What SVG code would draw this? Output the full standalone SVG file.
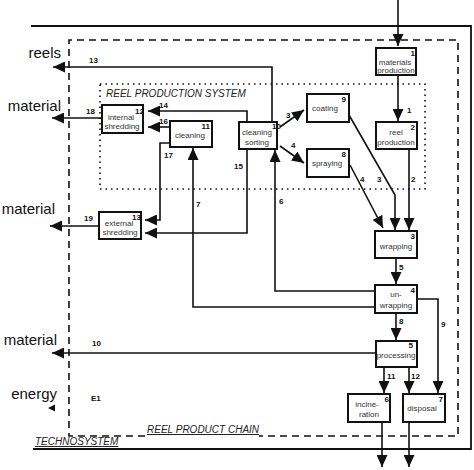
<svg xmlns="http://www.w3.org/2000/svg" width="474" height="470" viewBox="0 0 474 470">
<style>
.box{fill:#fff;stroke:#111;stroke-width:2}
.ln{fill:none;stroke:#111;stroke-width:1.6}
.t{font-family:"Liberation Sans",Arial,sans-serif;font-size:8px;fill:#333;text-anchor:middle}
.n{font-family:"Liberation Sans",Arial,sans-serif;font-size:8px;font-weight:bold;fill:#111}
.ne{font-family:"Liberation Sans",Arial,sans-serif;font-size:8px;font-weight:bold;fill:#111;text-anchor:end}
.big{font-family:"Liberation Sans",Arial,sans-serif;font-size:15px;fill:#111;text-anchor:end}
.sys{font-family:"Liberation Sans",Arial,sans-serif;font-size:10px;font-style:italic;fill:#222}
</style>
<defs>
<marker id="ah" markerUnits="userSpaceOnUse" markerWidth="13" markerHeight="11" refX="12" refY="5.5" orient="auto">
<path d="M0,0 L12,5.5 L0,11 z" fill="#111"/>
</marker>
</defs>
<rect width="474" height="470" fill="#fff"/>
<g id="technosystem">
<path d="M31,26 H471 V449 H33" fill="none" stroke="#111" stroke-width="1.8"/>
<text class="sys" x="35" y="445" text-decoration="underline">TECHNOSYSTEM</text>
</g>
<g id="reel-product-chain">
<path d="M145,436 H69 V40 H458 V436 H259" fill="none" stroke="#111" stroke-width="1.6" stroke-dasharray="7,5"/>
<text class="sys" x="147" y="433" text-decoration="underline">REEL PRODUCT CHAIN</text>
</g>
<g id="reel-production-system">
<rect x="100" y="84" width="325" height="105" fill="none" stroke="#111" stroke-width="1.6" stroke-dasharray="1.5,4"/>
<text class="sys" x="106" y="97">REEL PRODUCTION SYSTEM</text>
</g>
<g id="connectors">
<line class="ln" x1="398" y1="0" x2="398" y2="46" marker-end="url(#ah)"/>
<line class="ln" x1="398" y1="75" x2="398" y2="121" marker-end="url(#ah)"/>
<text class="n" x="407" y="113">1</text>
<line class="ln" x1="409" y1="149" x2="409" y2="230" marker-end="url(#ah)"/>
<text class="n" x="411" y="182">2</text>
<polyline class="ln" points="349,115 395,195 395,230" marker-end="url(#ah)"/>
<text class="n" x="377" y="182">3</text>
<line class="ln" x1="350" y1="165" x2="383" y2="228" marker-end="url(#ah)"/>
<text class="n" x="360" y="182">4</text>
<line class="ln" x1="280" y1="127" x2="304" y2="110" marker-end="url(#ah)"/>
<text class="n" x="286" y="118">3</text>
<line class="ln" x1="280" y1="146" x2="304" y2="163" marker-end="url(#ah)"/>
<text class="n" x="291" y="148">4</text>
<polyline class="ln" points="272,122 272,67 53,67" marker-end="url(#ah)"/>
<text class="n" x="89" y="63">13</text>
<polyline class="ln" points="247,122 247,111 148,111" marker-end="url(#ah)"/>
<text class="n" x="159" y="108">14</text>
<line class="ln" x1="170" y1="127" x2="148" y2="127" marker-end="url(#ah)"/>
<text class="n" x="159" y="124">16</text>
<polyline class="ln" points="170,143 160,143 160,220 145,220" marker-end="url(#ah)"/>
<text class="n" x="164" y="158">17</text>
<line class="ln" x1="102" y1="118" x2="52" y2="118" marker-end="url(#ah)"/>
<text class="n" x="86" y="114">18</text>
<line class="ln" x1="99" y1="226" x2="50" y2="226" marker-end="url(#ah)"/>
<text class="n" x="84" y="221">19</text>
<polyline class="ln" points="247,149 247,233 145,233" marker-end="url(#ah)"/>
<text class="n" x="234" y="169">15</text>
<polyline class="ln" points="375,307 193,307 193,148" marker-end="url(#ah)"/>
<text class="n" x="196" y="207">7</text>
<polyline class="ln" points="375,291 275,291 275,150" marker-end="url(#ah)"/>
<text class="n" x="279" y="204">6</text>
<line class="ln" x1="396" y1="258" x2="396" y2="284" marker-end="url(#ah)"/>
<text class="n" x="399" y="270">5</text>
<line class="ln" x1="396" y1="313" x2="396" y2="340" marker-end="url(#ah)"/>
<text class="n" x="399" y="324">8</text>
<polyline class="ln" points="417,299 438,299 438,393" marker-end="url(#ah)"/>
<text class="n" x="441" y="327">9</text>
<line class="ln" x1="376" y1="353" x2="52" y2="353" marker-end="url(#ah)"/>
<text class="n" x="92" y="346">10</text>
<line class="ln" x1="384" y1="367" x2="384" y2="393" marker-end="url(#ah)"/>
<text class="n" x="387" y="379">11</text>
<line class="ln" x1="409" y1="367" x2="409" y2="393" marker-end="url(#ah)"/>
<text class="n" x="411" y="379">12</text>
<line class="ln" x1="382" y1="422" x2="382" y2="467" marker-end="url(#ah)"/>
<line class="ln" x1="409" y1="422" x2="409" y2="467" marker-end="url(#ah)"/>
<path d="M48,408 L55,404.5 L55,411.5 z" fill="#111"/>
<text class="n" x="91" y="401">E1</text>
</g>
<g id="outside-labels">
<text class="big" x="61" y="58">reels</text>
<text class="big" x="61" y="111">material</text>
<text class="big" x="55" y="214">material</text>
<text class="big" x="57" y="345">material</text>
<text class="big" x="57" y="399">energy</text>
</g>
<g id="materials-production">
<rect class="box" x="376" y="48" width="40" height="27"/>
<text class="t" x="395" y="65">materials</text>
<text class="t" x="396" y="73">production</text>
<text class="ne" x="415" y="56">1</text>
</g>
<g id="reel-production">
<rect class="box" x="376" y="122" width="41" height="27"/>
<text class="t" x="396" y="135">reel</text>
<text class="t" x="396" y="145">production</text>
<text class="ne" x="415" y="130">2</text>
</g>
<g id="coating">
<rect class="box" x="307" y="94" width="42" height="28"/>
<text class="t" x="325" y="111">coating</text>
<text class="ne" x="346" y="102">9</text>
</g>
<g id="spraying">
<rect class="box" x="307" y="149" width="42" height="28"/>
<text class="t" x="327" y="166">spraying</text>
<text class="ne" x="346" y="157">8</text>
</g>
<g id="wrapping">
<rect class="box" x="375" y="231" width="42" height="27"/>
<text class="t" x="396" y="249">wrapping</text>
<text class="ne" x="415" y="239">3</text>
</g>
<g id="un-wrapping">
<rect class="box" x="375" y="285" width="42" height="28"/>
<text class="t" x="396" y="297">un-</text>
<text class="t" x="396" y="308">wrapping</text>
<text class="ne" x="415" y="293">4</text>
</g>
<g id="processing">
<rect class="box" x="376" y="341" width="41" height="26"/>
<text class="t" x="396" y="358">processing</text>
<text class="ne" x="413" y="348">5</text>
</g>
<g id="incineration">
<rect class="box" x="348" y="394" width="42" height="28"/>
<text class="t" x="367" y="407">incine-</text>
<text class="t" x="369" y="417">ration</text>
<text class="ne" x="389" y="402">6</text>
</g>
<g id="disposal">
<rect class="box" x="403" y="394" width="42" height="28"/>
<text class="t" x="422" y="411">disposal</text>
<text class="ne" x="443" y="402">7</text>
</g>
<g id="cleaning-sorting">
<rect class="box" x="239" y="122" width="38" height="27"/>
<text class="t" x="257" y="135">cleaning</text>
<text class="t" x="257" y="145">sorting</text>
<text class="ne" x="281" y="129">10</text>
</g>
<g id="cleaning">
<rect class="box" x="170" y="121" width="42" height="26"/>
<text class="t" x="190" y="138">cleaning</text>
<text class="ne" x="210" y="129">11</text>
</g>
<g id="internal-shredding">
<rect class="box" x="102" y="105" width="41" height="28"/>
<text class="t" x="121" y="120">internal</text>
<text class="t" x="122" y="129">shredding</text>
<text class="ne" x="144" y="114">12</text>
</g>
<g id="external-shredding">
<rect class="box" x="99" y="212" width="42" height="27"/>
<text class="t" x="119" y="226">external</text>
<text class="t" x="120" y="235">shredding</text>
<text class="ne" x="141" y="220">13</text>
</g>
</svg>
